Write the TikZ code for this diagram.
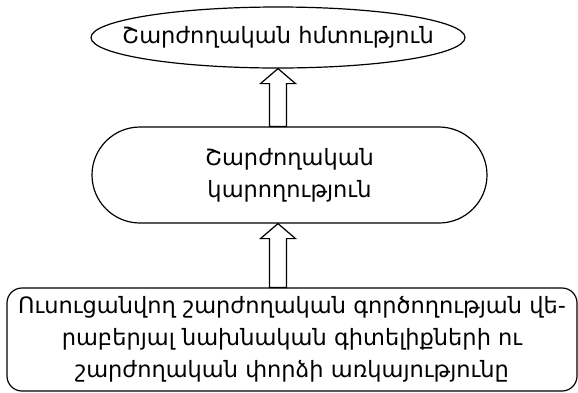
\documentclass[tikz,border=0pt]{standalone}
\usepackage{fontspec}
\setmainfont{DejaVu Sans}
\usetikzlibrary{shapes.geometric, calc, positioning}

\newcommand{\fatarrow}[3]{%
    \draw[hollow arrow] let \p0=(#1), \p1=(#2), \p2=(#3) in
        (\x0-8.5pt,\y2) -- (\x0-8.5pt,\y1-15pt) -- (\x0-17.5pt,\y1-15pt)
        -- (\x0,\y1) -- (\x0+17.5pt,\y1-15pt) -- (\x0+8.5pt,\y1-15pt)
        -- (\x0+8.5pt,\y2) -- cycle;}

\begin{document}
\begin{tikzpicture}
    [
        x=1pt, y=1pt,
        skill/.style = {
            ellipse, draw, line width=1.2pt, inner xsep=-30pt, inner ysep=-10pt,
            minimum width=374pt, minimum height=61pt
            },
        ability/.style = {
            rectangle, draw, line width=1.2pt, rounded corners=48pt,
            minimum width=395pt, minimum height=96pt, align=center
            },
        basis/.style = {
            rectangle, draw, line width=1.2pt, rounded corners=15pt,
            minimum width=570pt, minimum height=103pt, align=center
            },
        hollow arrow/.style = {
            draw, line width=1.2pt, fill=white
            },
    ]
    \useasboundingbox (0,0) rectangle (578,-392);
    \fontsize{22.5}{32}\selectfont
    %nodes
    \node[skill] (motor skill) at (278,-37.5) {Շարժողական հմտություն};
    \node[ability] (motor ability) at (289.5,-175) {Շարժողական\\կարողություն};
    \node[basis] (prior knowledge) at (292,-339.5)
        {Ուսուցանվող շարժողական գործողության վե-\\րաբերյալ նախնական գիտելիքների ու\\շարժողական փորձի առկայությունը};
    \coordinate (axis) at (278,0);
    %connecting nodes
    \fatarrow{axis}{motor skill.south}{motor ability.north}
    \fatarrow{axis}{motor ability.south}{prior knowledge.north}

\end{tikzpicture}
\end{document}
